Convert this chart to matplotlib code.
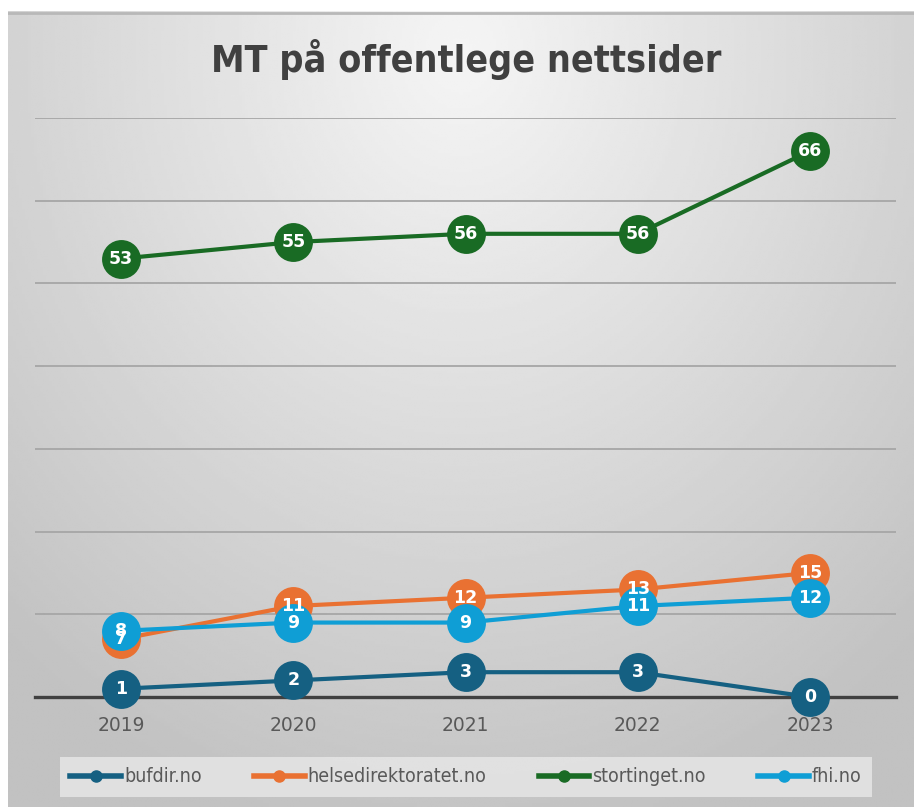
import numpy as np
import matplotlib.pyplot as plt
from matplotlib.lines import Line2D

# data
years = ["2019", "2020", "2021", "2022", "2023"]
bufdir = [1, 2, 3, 3, 0]
helsedir = [7, 11, 12, 13, 15]
stortinget = [53, 55, 56, 56, 66]
fhi = [8, 9, 9, 11, 12]

series = [
    ("bufdir.no", bufdir, "#156082"),
    ("helsedirektoratet.no", helsedir, "#E97132"),
    ("stortinget.no", stortinget, "#196B24"),
    ("fhi.no", fhi, "#0F9ED5"),
]

W, H = 914, 807
fig = plt.figure(figsize=(W / 100, H / 100), dpi=100)
fig.patch.set_facecolor("white")

narrow = ["DejaVu Sans"]

# background with radial gradient
x0, y0 = 8, 11
bg = fig.add_axes([x0 / W, 0, 1 - x0 / W, 1 - y0 / H])
gx, gy = np.meshgrid(np.linspace(0, 1, 300), np.linspace(0, 1, 300))
r = np.sqrt(((gx - 0.5) / 0.75) ** 2 + ((gy - 0.05) / 1.0) ** 2)
r = np.clip(r, 0, 1)
bg.imshow(0.96 - 0.20 * r, cmap="gray", vmin=0, vmax=1, aspect="auto",
          extent=[0, 1, 1, 0], interpolation="bilinear")
bg.set_xlim(0, 1)
bg.set_ylim(1, 0)
bg.axis("off")
bg.plot([0, 1], [0.002, 0.002], color="#b8b8b8", lw=2)

# title
fig.text(466 / W, 1 - 60 / H, "MT på offentlege nettsider", ha="center", va="center",
         fontsize=27, fontweight="bold", fontstretch="condensed", color="#404040",
         family=narrow)

# plot area
left, right = 35 / W, 896 / W
bottom, top = 1 - 697 / H, 1 - 118 / H
ax = fig.add_axes([left, bottom, right - left, top - bottom])
ax.patch.set_alpha(0)
x = np.arange(len(years))
ax.set_xlim(-0.5, len(years) - 0.5)
ax.set_ylim(0, 70)
for g in range(10, 71, 10):
    ax.axhline(g, color="#a6a6a6", lw=1.3, zorder=1)
ax.axhline(0, color="#404040", lw=2.4, zorder=1, clip_on=False)

for name, vals, col in series:
    ax.plot(x, vals, color=col, lw=3.0, marker="o", markersize=28,
            markeredgewidth=0, zorder=3, label=name, clip_on=False)
    for xi, v in zip(x, vals):
        ax.text(xi, v, str(v), ha="center", va="center", color="white",
                fontsize=12.5, fontweight="bold", zorder=4, clip_on=False)

for s in ax.spines.values():
    s.set_visible(False)
ax.set_yticks([])
ax.set_xticks(x)
ax.set_xticklabels(years, fontsize=13.5, color="#595959")
ax.tick_params(axis="x", length=0, pad=14)

# legend
handles = [Line2D([0], [0], color=c, lw=4, marker="o", markersize=8) for _, _, c in series]
leg = fig.legend(handles, [s[0] for s in series], loc="center",
                 bbox_to_anchor=(466 / W, 1 - 777 / H), ncol=4, frameon=True,
                 fancybox=False, handlelength=2.6, handletextpad=0.15, columnspacing=2.7,
                 borderpad=0.55, borderaxespad=0,
                 prop={"family": narrow, "size": 14, "stretch": "condensed"})
leg.get_frame().set_facecolor("#e4e4e4")
leg.get_frame().set_edgecolor("none")
leg.get_frame().set_alpha(0.9)
for t in leg.get_texts():
    t.set_color("#595959")

fig.savefig("out.png", dpi=100)
